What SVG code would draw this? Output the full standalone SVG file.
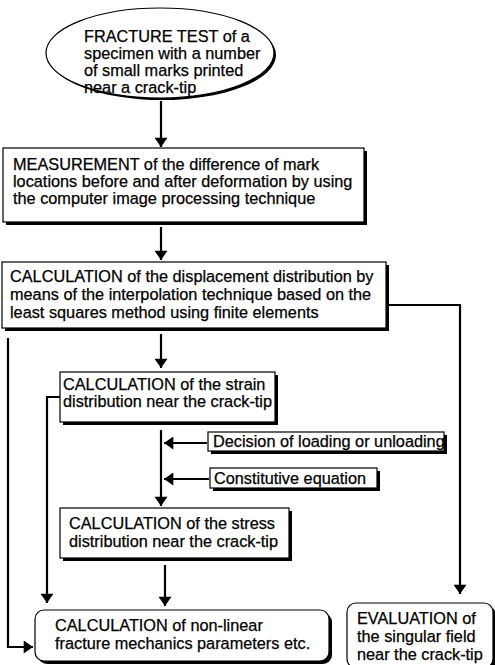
<svg xmlns="http://www.w3.org/2000/svg" width="495" height="665" viewBox="0 0 495 665">
<defs>
<style>
text{font-family:"Liberation Sans",Arial,sans-serif;font-size:16.3px;fill:#000;stroke:#000;stroke-width:0.25}
.box{fill:#fff;stroke:#000;stroke-width:1.2}
.sh{fill:#000}
.ln{fill:none;stroke:#000;stroke-width:2.2}
</style>
<marker id="ah" viewBox="0 0 10 14" refX="10" refY="7" markerWidth="10" markerHeight="13" orient="auto" markerUnits="userSpaceOnUse">
<path d="M0,0 L10,7 L0,14 z" fill="#000"/>
</marker>
</defs>
<rect width="495" height="665" fill="#fff"/>
<g id="connectors">
<line class="ln" x1="161" y1="101" x2="161" y2="147" marker-end="url(#ah)"/>
<line class="ln" x1="161" y1="227" x2="161" y2="260" marker-end="url(#ah)"/>
<line class="ln" x1="161" y1="334" x2="161" y2="368" marker-end="url(#ah)"/>
<polyline class="ln" points="389,305 460,305 460,594" marker-end="url(#ah)"/>
<polyline class="ln" points="8,338 8,647 33,647" marker-end="url(#ah)"/>
<polyline class="ln" points="60,397 47,397 47,603" marker-end="url(#ah)"/>
<line class="ln" x1="161" y1="430" x2="161" y2="506" marker-end="url(#ah)"/>
<line class="ln" x1="207" y1="443" x2="164" y2="443" marker-end="url(#ah)"/>
<line class="ln" x1="209" y1="479" x2="164" y2="479" marker-end="url(#ah)"/>
<line class="ln" x1="165" y1="565" x2="165" y2="606" marker-end="url(#ah)"/>
</g>
<g id="fracture">
<ellipse class="sh" cx="162" cy="55" rx="114" ry="45"/>
<ellipse class="box" cx="160" cy="53" rx="114" ry="45"/>
<text x="84" y="42">FRACTURE TEST of  a</text>
<text x="84" y="59">specimen with a number</text>
<text x="84" y="76">of small marks printed</text>
<text x="84" y="93">near a crack-tip</text>
</g>
<g id="measurement">
<rect class="sh" x="6" y="151" width="361" height="74"/>
<rect class="box" x="3" y="148" width="361" height="74"/>
<text x="13" y="170">MEASUREMENT of the difference of mark</text>
<text x="13" y="187">locations  before and after deformation by using</text>
<text x="13" y="204">the computer image processing technique</text>
</g>
<g id="displacement">
<rect class="sh" x="5" y="265" width="384" height="66"/>
<rect class="box" x="2" y="262" width="384" height="66"/>
<text x="10" y="282">CALCULATION of the displacement distribution by</text>
<text x="10" y="300">means of the  interpolation technique based on the</text>
<text x="10" y="318">least squares  method using finite elements</text>
</g>
<g id="strain">
<rect class="sh" x="63" y="375" width="215" height="50"/>
<rect class="box" x="60" y="372" width="215" height="50"/>
<text x="63" y="390">CALCULATION of the strain</text>
<text x="63" y="407">distribution near the crack-tip</text>
</g>
<g id="decision">
<rect class="sh" x="211" y="435" width="236" height="19"/>
<rect class="box" x="208" y="432" width="236" height="19"/>
<text x="213" y="447">Decision of loading or unloading</text>
</g>
<g id="constitutive">
<rect class="sh" x="213" y="471" width="167" height="20"/>
<rect class="box" x="210" y="468" width="167" height="20"/>
<text x="214" y="484">Constitutive equation</text>
</g>
<g id="stress">
<rect class="sh" x="63" y="511" width="229" height="50"/>
<rect class="box" x="60" y="508" width="229" height="50"/>
<text x="69" y="529">CALCULATION of the stress</text>
<text x="69" y="547">distribution near the crack-tip</text>
</g>
<g id="nonlinear">
<rect class="sh" x="38" y="613" width="294" height="51" rx="9"/>
<rect class="box" x="35" y="610" width="294" height="51" rx="9"/>
<text x="55" y="631">CALCULATION of non-linear</text>
<text x="55" y="649">fracture mechanics parameters etc.</text>
</g>
<g id="evaluation">
<rect class="sh" x="350" y="606" width="146" height="65" rx="9"/>
<rect class="box" x="347" y="603" width="146" height="65" rx="9"/>
<text x="357" y="624">EVALUATION of</text>
<text x="357" y="642">the singular field</text>
<text x="357" y="660">near the crack-tip</text>
</g>
</svg>
